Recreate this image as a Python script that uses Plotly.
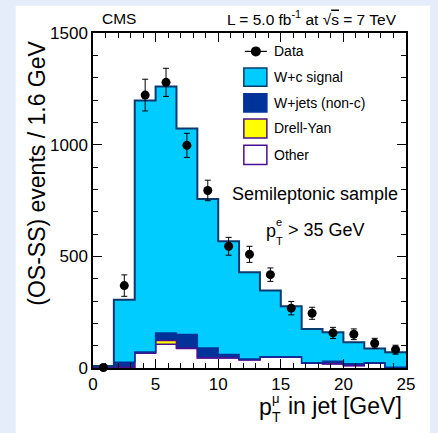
import numpy as np
import plotly.graph_objects as go

# Bin edges of the muon-pT-in-jet distribution (15 bins, 0-25 GeV)
edges = np.linspace(0, 25, 16)
centers = 0.5 * (edges[:-1] + edges[1:])

# Stacked MC contributions per bin (OS-SS events)
other = [1, 3, 66, 106, 87, 45, 45, 36, 48, 48, 21, 18, 10, 21, 0]
drell_yan = [0, 0, 2, 17, 3, 1, 1, 1, 1, 1, 1, 1, 1, 1, 0]
wjets_nonc = [6, 23, 4, 34, 60, 44, 14, 3, 1, 1, 1, 11, 8, 1, 3]
wc_signal = [2, 280, 1126, 1104, 922, 667, 507, 389, 297, 226, 152, 130, 96, 64, 68]

# Data with statistical uncertainties
data = [2, 369, 1222, 1279, 997, 795, 545, 509, 418, 268, 245, 157, 151, 111, 82]
data_err = [10, 48, 71, 63, 54, 46, 40, 36, 30, 30, 27, 25, 24, 22, 20]

x_ticks = [0, 5, 10, 15, 20, 25]
y_ticks = [0, 500, 1000, 1500]

FONT = "Liberation Sans, Arial, Helvetica, sans-serif"
CYAN = "#00ccff"
NAVY = "#0a3a6e"
DARKBLUE = "#003399"
PURPLE = "#4b0f91"
YELLOW = "#ffff00"

# Plot-area geometry in page pixels
W, H = 438, 433
L, R, T, B = 93.3, 406.0, 33.3, 368.5


def px(xp):
    return (xp - L) / (R - L)


def py(yp):
    return (B - yp) / (B - T)


fig = go.Figure()

layers = [
    (other, "white", PURPLE, 1.5),
    (drell_yan, YELLOW, PURPLE, 1.5),
    (wjets_nonc, DARKBLUE, DARKBLUE, 1.5),
    (wc_signal, CYAN, NAVY, 2.0),
]
cum = np.zeros(len(centers))
for i, (vals, fillc, linec, lw) in enumerate(layers):
    cum = cum + np.array(vals, dtype=float)
    ystep = list(cum) + [cum[-1]]
    fig.add_trace(go.Scatter(
        x=edges, y=ystep, mode="lines", line=dict(shape="hv", color=linec, width=lw),
        fill="tozeroy" if i == 0 else "tonexty", fillcolor=fillc,
        showlegend=False, hoverinfo="skip",
    ))

fig.add_trace(go.Scatter(
    x=centers, y=data, mode="markers",
    marker=dict(color="black", size=9, symbol="circle"),
    error_y=dict(type="data", array=data_err, color="black", thickness=1, width=3),
    showlegend=False, cliponaxis=False,
))

axis_common = dict(
    showline=True, linecolor="black", linewidth=1.5, mirror="ticks",
    ticks="inside", ticklen=9, tickwidth=1, tickcolor="black",
    showgrid=False, zeroline=False,
    tickfont=dict(family=FONT, size=17, color="black"),
)

fig.update_xaxes(range=[0, 25], tickvals=x_ticks, ticktext=[str(v) for v in x_ticks],
                 minor=dict(dtick=1, ticks="inside", ticklen=5, tickcolor="black", showgrid=False),
                 **axis_common)
fig.update_yaxes(range=[0, 1500], tickvals=y_ticks, ticktext=[str(v) for v in y_ticks],
                 minor=dict(dtick=100, ticks="inside", ticklen=5, tickcolor="black", showgrid=False),
                 **axis_common)

shapes = []
# page frame: light-blue border strips around a white canvas
shapes.append(dict(type="rect", xref="paper", yref="paper", x0=px(-5), x1=px(W + 5),
                   y0=py(-5), y1=py(H + 5), fillcolor="#e6edfa", line=dict(width=0), layer="below"))
shapes.append(dict(type="rect", xref="paper", yref="paper", x0=px(16), x1=px(430),
                   y0=py(6), y1=py(H + 5), fillcolor="white", line=dict(width=0), layer="below"))

# legend boxes
box_x0, box_x1 = 244, 267
legend_boxes = [
    (68.3, 86.7, CYAN, NAVY),
    (94.0, 112.3, DARKBLUE, DARKBLUE),
    (119.3, 138.3, YELLOW, PURPLE),
    (145.7, 165.0, "white", PURPLE),
]
for y0, y1, fc, lc in legend_boxes:
    shapes.append(dict(type="rect", xref="paper", yref="paper", x0=px(box_x0), x1=px(box_x1),
                       y0=py(y1), y1=py(y0), fillcolor=fc, line=dict(color=lc, width=1.5)))
# data legend line
shapes.append(dict(type="line", xref="paper", yref="paper", x0=px(245), x1=px(267),
                   y0=py(51.7), y1=py(51.7), line=dict(color="black", width=1.2)))
fig.update_layout(shapes=shapes)

# data legend marker
fig.add_trace(go.Scatter(x=[px(256)], y=[py(51.7)], xaxis="x2", yaxis="y2", mode="markers",
                         marker=dict(color="black", size=10), showlegend=False, hoverinfo="skip"))
fig.update_layout(
    xaxis2=dict(overlaying="x", range=[0, 1], visible=False, anchor="y2"),
    yaxis2=dict(overlaying="y", range=[0, 1], visible=False, anchor="x2"),
)

annotations = []


def ann(text, xp, yp, size, xanchor="left", yanchor="middle", angle=0):
    annotations.append(dict(text=text, x=px(xp), y=py(yp), xref="paper", yref="paper",
                            xanchor=xanchor, yanchor=yanchor, showarrow=False, textangle=angle,
                            font=dict(family=FONT, size=size, color="black")))


legend_texts = [("Data", 51.7), ("W+c signal", 77.5), ("W+jets (non-c)", 103.2),
                ("Drell-Yan", 128.8), ("Other", 155.3)]
for txt, yp in legend_texts:
    ann(txt, 272, yp, 14)

ann("CMS", 119, 18.5, 15.5, xanchor="center")
ann("L = 5.0 fb<sup>-1</sup> at √<span style='text-decoration:overline'>s</span> = 7 TeV",
    399, 18.5, 15.5, xanchor="right")

ann("Semileptonic sample", 315.5, 194, 18, xanchor="center")
ann("p", 264, 231, 18)
ann("e", 274.5, 222.5, 11)
ann("T", 274.5, 241, 11)
ann("> 35 GeV", 286, 230, 18)

# axis titles
ann("(OS-SS) events / 1.6 GeV", 37, 173.5, 23, xanchor="center", angle=-90)
ann("p", 257, 408, 23)
ann("μ", 270, 399, 13)
ann("T", 270.5, 418, 14)
ann("in jet [GeV]", 286, 407, 23)

fig.update_layout(
    annotations=annotations,
    width=W, height=H, autosize=False,
    margin=dict(l=L, r=W - R, t=T, b=H - B, pad=0),
    paper_bgcolor="white", plot_bgcolor="white",
    showlegend=False,
)

fig.write_html("out.html", include_plotlyjs=True, full_html=True,
               config={"displayModeBar": False})
